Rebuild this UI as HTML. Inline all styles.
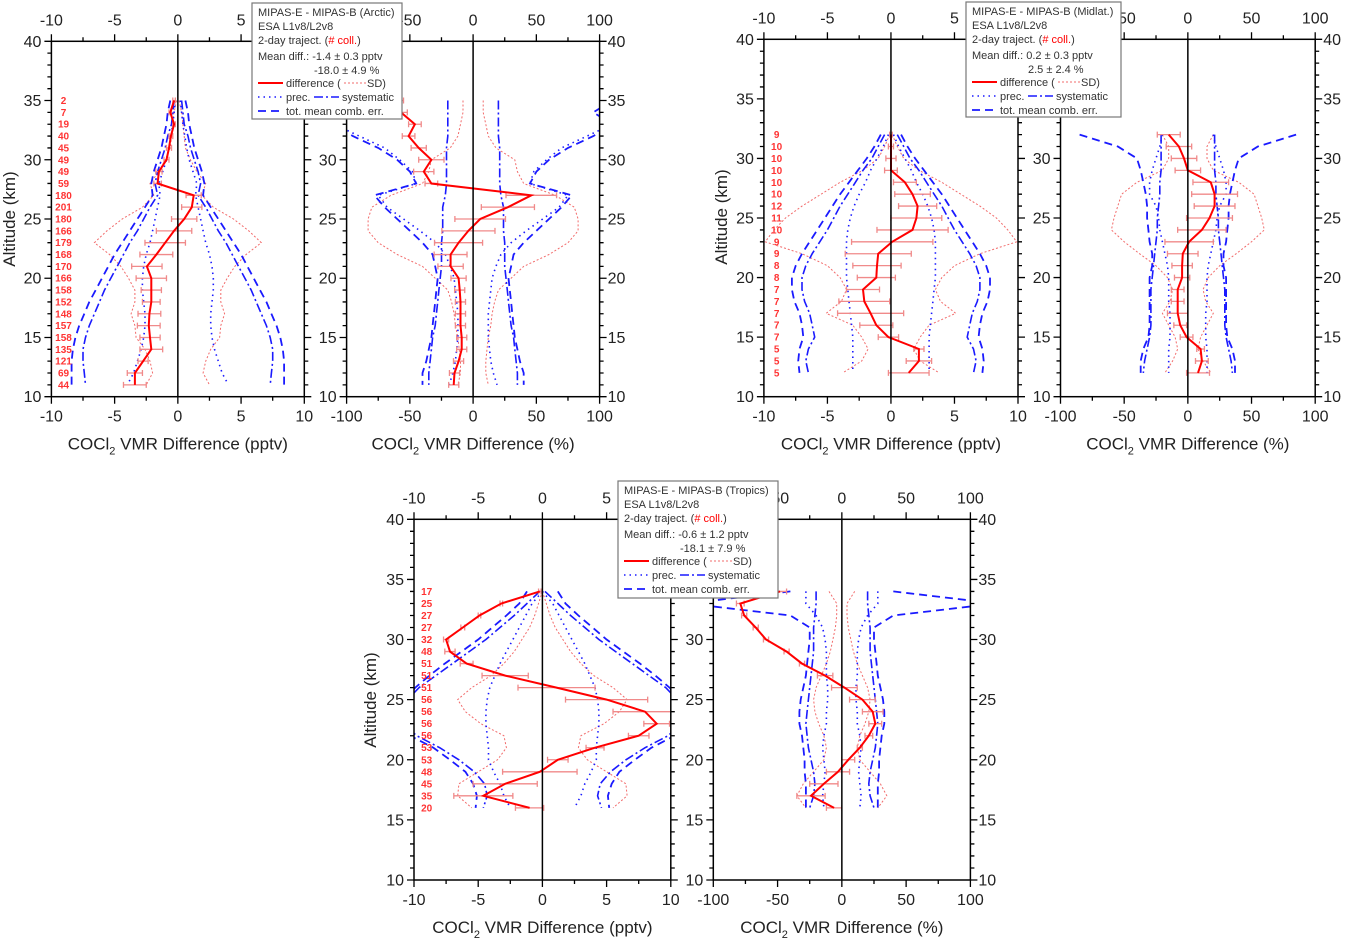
<!DOCTYPE html>
<html><head><meta charset="utf-8"><style>
html,body{margin:0;padding:0;background:#fff}
svg{display:block}
text{font-family:"Liberation Sans",Arial,sans-serif}
</style></head><body>
<svg id="fig" width="1346" height="942" viewBox="0 0 1346 942" xmlns="http://www.w3.org/2000/svg"></svg>
<script>
// ---------- Arctic data (altitude 35..11 km) ----------
const arcAlt = [35,34,33,32,31,30,29,28,27,26,25,24,23,22,21,20,19,18,17,16,15,14,13,12,11];
const arcCount = [2,7,19,40,45,49,49,59,180,201,180,166,179,168,170,166,158,152,148,157,158,135,121,69,44];
const arcDiffPptv = [-0.3,-0.6,-0.3,-0.55,-0.7,-0.9,-1.5,-1.6,1.25,1.1,0.5,-0.3,-1.0,-1.7,-2.45,-2.1,-2.1,-2.1,-2.25,-2.3,-2.2,-2.1,-2.75,-3.4,-3.4];
const arcErrPptv = [0.1,0.1,0.1,0.15,0.2,0.2,0.25,0.3,0.6,0.8,1.0,1.4,1.6,1.3,1.2,1.2,0.8,0.7,0.9,0.9,0.8,0.9,0.4,0.6,0.9];
const arcSdPptv = [0.1,0.3,0.4,0.5,0.6,1.0,1.5,2.2,1.9,2.8,4.4,5.6,6.6,5.4,4.5,3.9,3.4,3.4,3.7,3.4,3.3,2.6,2.2,2.0,2.5];
const arcPrecPptv = [0.2,0.3,0.4,0.55,0.7,0.9,1.2,1.5,1.4,1.6,1.8,2.0,2.2,2.5,2.7,2.8,2.8,2.7,2.6,2.6,2.7,2.9,3.2,3.5,4.0];
const arcSysPptv = [0.3,0.4,0.5,0.8,1.0,1.3,1.6,1.8,1.6,2.2,2.7,3.2,3.8,4.3,4.8,5.3,5.8,6.2,6.6,7.0,7.3,7.5,7.5,7.4,7.3];
const arcTotPptv = [0.6,0.8,0.9,1.1,1.3,1.6,1.9,2.1,2.0,2.6,3.2,3.8,4.4,5.0,5.5,6.0,6.5,7.0,7.4,7.8,8.1,8.3,8.4,8.4,8.4];
const arcDiffPct = [-60,-57,-46,-51,-43,-33,-39,-33,46,27.5,5.6,-3.7,-11.5,-17.8,-17.8,-11.5,-10.6,-10,-10,-10,-9,-9,-11.5,-14.7,-15.3];
const arcErrPct = [5,5,5,5,6,10,8,5,20,21,20,21,19,13,10,6,4,4,4,4,4,4,4,4,4];
const arcSdPct = [8,8,10,12,18,33,35,40,65,80,83,83,75,60,40,30,20,17,15,14,12,11,10,10,12];
const arcPrecPct = [130,120,110,90,70,58,48,45,75,68,55,42,30,22,18,15,14,13,12,12,12,13,14,16,19];
const arcSysPct = [20,20,20,20,21,21,21,21,22,24,24,24,25,25,25,26,27,28,29,30,32,33,34,35,35];
const arcTotPct = [110,95,110,95,75,60,50,45,78,70,60,50,40,32,30,28,29,30,31,32,33,35,37,40,40];
// ---------- Midlatitude data (32..12 km) ----------
const midAlt = [32,31,30,29,28,27,26,25,24,23,22,21,20,19,18,17,16,15,14,13,12];
const midCount = [9,10,10,10,10,10,12,11,10,9,9,8,8,7,7,7,7,7,5,5,5];
const midDiffPptv = [0,0,0,0,1.1,1.7,2.1,2.0,1.7,0.1,-1.0,-1.1,-1.15,-2.2,-2.1,-1.6,-1.15,-0.2,2.2,2.2,1.4];
const midErrPptv = [0.1,0.2,0.4,0.5,0.9,1.4,1.5,2.0,2.8,3.2,2.6,1.9,1.5,1.3,2.0,2.6,1.3,0.8,0.4,1.0,1.6];
const midSdPptv = [0.1,0.5,1.0,2.2,4,5.5,7,8.3,9.2,9.9,7,5,4,3.5,3.9,5.1,3,2.3,1.8,2.3,3.8];
const midPrecPptv = [0.2,0.6,1.1,1.6,2.0,2.5,2.9,3.2,3.4,3.5,3.5,3.5,3.5,3.4,3.3,3.2,3.1,3.0,3.0,3.0,3.0];
const midSysPptv = [0.5,1.0,1.5,2.2,2.8,3.4,4.0,4.5,5.0,5.6,6.2,6.7,7.0,7.0,6.8,6.4,6.2,6.0,6.5,6.7,6.5];
const midTotPptv = [0.8,1.3,1.9,2.6,3.3,4.0,4.6,5.2,5.8,6.4,7.0,7.5,7.8,7.8,7.6,7.2,7.0,6.9,7.2,7.3,7.2];
const midDiffPct = [-15,-7,-3,0,18,21,21,17,11,1,-4,-4.5,-4.5,-8,-8,-8,-6,-1,10,11,8];
const midErrPct = [9,10,10,10,14,18,16,18,19,19,12,8,6,5,5,8,5,5,3,5,9];
const midSdPct = [20,15,15,20,40,52,55,58,60,50,38,25,16,12,14,20,15,10,8,12,18];
const midPrecPct = [20,22,25,28,30,30,25,23,22,20,18,16,15,15,15,14,14,14,15,15,15];
const midSysPct = [21,21,21,21,22,22,23,24,24,25,26,27,28,29,29,29,29,30,32,34,35];
const midTotPct = [85,55,40,37,35,33,32,32,31,30,28,28,30,30,30,30,30,31,35,37,37];
// ---------- Tropics data (34..16 km) ----------
const troAlt = [34,33,32,31,30,29,28,27,26,25,24,23,22,21,20,19,18,17,16];
const troCount = [17,25,27,27,32,48,51,51,51,56,56,56,56,53,53,48,45,35,20];
const troDiffPptv = [-0.2,-3.2,-4.9,-6.2,-7.5,-7.2,-5.9,-2.9,1.1,5.0,8.0,8.9,7.5,4.1,1.2,-0.2,-2.9,-4.6,-1.0];
const troErrPptv = [0.1,0.1,0.1,0.15,0.2,0.4,0.5,1.8,3.0,3.2,2.5,1.0,0.8,0.7,0.8,2.9,2.5,2.3,1.1];
const troSdPptv = [0,0.3,0.6,1.0,1.6,2.2,3.0,4.0,5.5,6.6,6.0,4.8,3.0,2.8,3.5,5.0,6.5,6.6,5.5];
const troPrecPptv = [0,0.8,1.3,1.8,2.3,2.8,3.3,3.7,4.1,4.3,4.4,4.4,4.3,4.2,4.2,3.8,3.3,3.0,2.5];
const troSysPptv = [0.2,1.2,2.2,3.3,4.4,5.7,7.0,8.3,9.6,10.5,11,10.8,9.8,8.0,6.5,5.3,4.5,4.3,4.6];
const troTotPptv = [1.2,1.8,2.8,3.9,5.0,6.3,7.6,8.8,9.9,10.8,11.5,11.3,10.3,8.5,7.2,6.0,5.4,5.1,5.2];
const troDiffPct = [-48,-79,-76,-67,-59,-43,-31,-13,2,16,24,26,21,14,5,-3,-14,-24,-6];
const troErrPct = [5,3,2,2,2,2,2,6,10,10,8,5,3,2,5,9,11,11,6];
const troSdPct = [10,4,4,5,7,9,12,16,20,22,21,18,14,12,14,22,30,35,28];
const troPrecPct = [28,28,20,15,13,12,12,12,11,11,12,12,14,15,14,13,14,15,14];
const troSysPct = [20,20,21,22,22,22,23,24,25,26,27,28,27,26,24,22,21,22,25];
const troTotPct = [40,120,40,25,25,26,27,28,30,32,33,33,31,30,29,29,28,28,28];

const pptvTicks = [-10,-5,0,5,10];
const pctTicks = [-100,-50,0,50,100];
const altTicks = [10,15,20,25,30,35,40];

const NS = "http://www.w3.org/2000/svg";
const svg = document.getElementById("fig");
let clipId = 0;
function mk(tag, attrs, parent, txt){
  const e = document.createElementNS(NS, tag);
  for (const k in attrs) e.setAttribute(k, attrs[k]);
  if (txt !== undefined) e.textContent = txt;
  (parent || svg).appendChild(e);
  return e;
}

function drawPlot(cfg){
  const g = mk("g", {});
  
  
  const {x0,x1,y0,y1,xmin,xmax} = cfg;
  const sx = v => x0 + (v - xmin) / (xmax - xmin) * (x1 - x0);
  const sy = a => y1 - (a - 10) / 30 * (y1 - y0);
  const id = "clip" + (clipId++);
  const cp = mk("clipPath", {id}, g);
  mk("rect", {x:x0, y:y0, width:x1-x0, height:y1-y0}, cp);
  const data = mk("g", {"clip-path":"url(#"+id+")"}, g);
  function env(vals, style, nm){
    [-1,1].forEach(s=>{
      const pts = cfg.alt.map((a,i)=> sx(s*vals[i]).toFixed(1)+","+sy(a).toFixed(1)).join(" ");
      const p = mk("polyline", Object.assign({points:pts, fill:"none"}, style), data);
      
      
    });
  }
  env(cfg.sd, {stroke:"#f26b6b","stroke-width":1,"stroke-dasharray":"2,2"}, "sd-envelope");
  env(cfg.prec, {stroke:"#1a1aff","stroke-width":1.6,"stroke-dasharray":"1.5,4"}, "precision-error");
  env(cfg.sys, {stroke:"#1a1aff","stroke-width":1.6,"stroke-dasharray":"9,3,2,3"}, "systematic-error");
  env(cfg.tot, {stroke:"#1a1aff","stroke-width":1.8,"stroke-dasharray":"8,5"}, "total-combined-error");
  const zl = mk("line", {x1:sx(0), x2:sx(0), y1:y0, y2:y1, stroke:"#000","stroke-width":1.5}, g);
  
  
  cfg.alt.forEach((a,i)=>{
    const y = sy(a), xl = sx(cfg.diff[i]-cfg.err[i]), xr = sx(cfg.diff[i]+cfg.err[i]);
    const eb = mk("path", {d:`M${xl},${y}H${xr}M${xl},${y-3}V${y+3}M${xr},${y-3}V${y+3}`, stroke:"#f08a8a","stroke-width":1.3, fill:"none"}, data);
    
    
  });
  const dl = mk("polyline", {points: cfg.alt.map((a,i)=> sx(cfg.diff[i]).toFixed(1)+","+sy(a).toFixed(1)).join(" "), fill:"none", stroke:"#f00","stroke-width":2}, data);
  
  
  const fr = mk("rect", {x:x0, y:y0, width:x1-x0, height:y1-y0, fill:"none", stroke:"#000","stroke-width":1.5}, g);
  
  
  const xt = cfg.xticks, step = (xt[1]-xt[0])/2;
  let d = "";
  for (let v = xmin; v <= xmax + 1e-9; v += step){
    const major = Math.abs(((v - xmin) / (xt[1]-xt[0])) % 1) < 1e-6;
    const L = major ? 7 : 4, x = sx(v);
    d += `M${x},${y1}v${L}M${x},${y0}v${-L}`;
  }
  for (let a = 10; a <= 40; a += 1){
    const L = a % 5 === 0 ? 7 : 4, y = sy(a);
    d += `M${x0},${y}h${-L}M${x1},${y}h${L}`;
  }
  mk("path", {d, stroke:"#000","stroke-width":1.3, fill:"none"}, g);
  xt.forEach(v=>{
    const b = mk("text", {x:sx(v), y:y1+25, "text-anchor":"middle","font-size":16, fill:"#222"}, g, String(v));
    
    
    const t = mk("text", {x:sx(v), y:y0-16, "text-anchor":"middle","font-size":16, fill:"#222"}, g, String(v));
    
    
  });
  altTicks.forEach(a=>{
    const l = mk("text", {x:x0-10, y:sy(a)+5.5, "text-anchor":"end","font-size":16, fill:"#222"}, g, String(a));
    
    
    if (cfg.rightLabels){
      const r = mk("text", {x:x1+8, y:sy(a)+5.5, "text-anchor":"start","font-size":16, fill:"#222"}, g, String(a));
      
      
    }
  });
  if (cfg.counts){
    cfg.alt.forEach((a,i)=>{
      const c = mk("text", {x:cfg.countX, y:sy(a)+3.5, "text-anchor":"middle","font-size":10, "font-weight":"bold", fill:"#f33"}, g, String(cfg.counts[i]));
      
      
    });
  }
  const tt = mk("text", {x:(x0+x1)/2, y:y1+53, "text-anchor":"middle","font-size":17, fill:"#222"}, g);
  
  
  mk("tspan", {}, tt, "COCl");
  mk("tspan", {dy:5, "font-size":11}, tt, "2");
  mk("tspan", {dy:-5}, tt, " VMR Difference (" + cfg.unit + ")");
  if (cfg.ytitle){
    const yt = mk("text", {x:0, y:0, transform:`translate(${cfg.ytitle[0]},${cfg.ytitle[1]}) rotate(-90)`, "text-anchor":"middle","font-size":17, fill:"#222"}, g, "Altitude (km)");
    
    
  }
}

function legend(x, y, w, h, region, m1, m2){
  const g = mk("g", {});
  
  
  mk("rect", {x, y, width:w, height:h, fill:"#fff", stroke:"#777","stroke-width":1.2}, g);
  const fs = 11, tx = x+6;
  mk("text", {x:tx, y:y+13, "font-size":fs, fill:"#333"}, g, "MIPAS-E - MIPAS-B (" + region + ")");
  mk("text", {x:tx, y:y+27, "font-size":fs, fill:"#333"}, g, "ESA L1v8/L2v8");
  const t3 = mk("text", {x:tx, y:y+41, "font-size":fs, fill:"#333"}, g);
  mk("tspan", {}, t3, "2-day traject. (");
  mk("tspan", {fill:"#f00"}, t3, "# coll.");
  mk("tspan", {}, t3, ")");
  mk("text", {x:tx, y:y+57, "font-size":fs, fill:"#333"}, g, "Mean diff.: " + m1);
  mk("text", {x:x+62, y:y+71, "font-size":fs, fill:"#333"}, g, m2);
  mk("line", {x1:tx, x2:tx+25, y1:y+80, y2:y+80, stroke:"#f00","stroke-width":2}, g);
  mk("text", {x:tx+28, y:y+84, "font-size":fs, fill:"#333"}, g, "difference (");
  mk("line", {x1:tx+86, x2:tx+108, y1:y+80, y2:y+80, stroke:"#f26b6b","stroke-width":1,"stroke-dasharray":"2,2"}, g);
  mk("text", {x:tx+109, y:y+84, "font-size":fs, fill:"#333"}, g, "SD)");
  mk("line", {x1:tx, x2:tx+25, y1:y+94, y2:y+94, stroke:"#1a1aff","stroke-width":1.6,"stroke-dasharray":"1.5,4"}, g);
  mk("text", {x:tx+28, y:y+98, "font-size":fs, fill:"#333"}, g, "prec.");
  mk("line", {x1:tx+56, x2:tx+81, y1:y+94, y2:y+94, stroke:"#1a1aff","stroke-width":1.6,"stroke-dasharray":"9,3,2,3"}, g);
  mk("text", {x:tx+84, y:y+98, "font-size":fs, fill:"#333"}, g, "systematic");
  mk("line", {x1:tx, x2:tx+25, y1:y+108, y2:y+108, stroke:"#1a1aff","stroke-width":1.8,"stroke-dasharray":"8,5"}, g);
  mk("text", {x:tx+28, y:y+112, "font-size":fs, fill:"#333"}, g, "tot. mean comb. err.");
}

drawPlot({name:"arctic-pptv-plot", x0:51.4, x1:304.3, y0:41.3, y1:396.7, xmin:-10, xmax:10, xticks:pptvTicks, unit:"pptv",
  alt:arcAlt, diff:arcDiffPptv, err:arcErrPptv, sd:arcSdPptv, prec:arcPrecPptv, sys:arcSysPptv, tot:arcTotPptv,
  counts:arcCount, countX:63.5, ytitle:[15,219]});
drawPlot({name:"arctic-percent-plot", x0:346.6, x1:599.6, y0:41.3, y1:396.7, xmin:-100, xmax:100, xticks:pctTicks, unit:"%",
  alt:arcAlt, diff:arcDiffPct, err:arcErrPct, sd:arcSdPct, prec:arcPrecPct, sys:arcSysPct, tot:arcTotPct, rightLabels:true});
drawPlot({name:"midlat-pptv-plot", x0:763.9, x1:1018, y0:39.3, y1:396.7, xmin:-10, xmax:10, xticks:pptvTicks, unit:"pptv",
  alt:midAlt, diff:midDiffPptv, err:midErrPptv, sd:midSdPptv, prec:midPrecPptv, sys:midSysPptv, tot:midTotPptv,
  counts:midCount, countX:776.6, ytitle:[727,217]});
drawPlot({name:"midlat-percent-plot", x0:1060.5, x1:1315.2, y0:39.3, y1:396.7, xmin:-100, xmax:100, xticks:pctTicks, unit:"%",
  alt:midAlt, diff:midDiffPct, err:midErrPct, sd:midSdPct, prec:midPrecPct, sys:midSysPct, tot:midTotPct, rightLabels:true});
drawPlot({name:"tropics-pptv-plot", x0:414, x1:670.8, y0:519.3, y1:880, xmin:-10, xmax:10, xticks:pptvTicks, unit:"pptv",
  alt:troAlt, diff:troDiffPptv, err:troErrPptv, sd:troSdPptv, prec:troPrecPptv, sys:troSysPptv, tot:troTotPptv,
  counts:troCount, countX:426.7, ytitle:[376,700]});
drawPlot({name:"tropics-percent-plot", x0:713.3, x1:970.4, y0:519.3, y1:880, xmin:-100, xmax:100, xticks:pctTicks, unit:"%",
  alt:troAlt, diff:troDiffPct, err:troErrPct, sd:troSdPct, prec:troPrecPct, sys:troSysPct, tot:troTotPct, rightLabels:true});

legend(252, 3, 150, 116, "Arctic", "-1.4 ± 0.3 pptv", "-18.0 ± 4.9 %");
legend(966, 2, 155, 115, "Midlat.", "0.2 ± 0.3 pptv", "2.5 ± 2.4 %");
legend(618, 481, 160, 117, "Tropics", "-0.6 ± 1.2 pptv", "-18.1 ± 7.9 %");
</script>
</body></html>
